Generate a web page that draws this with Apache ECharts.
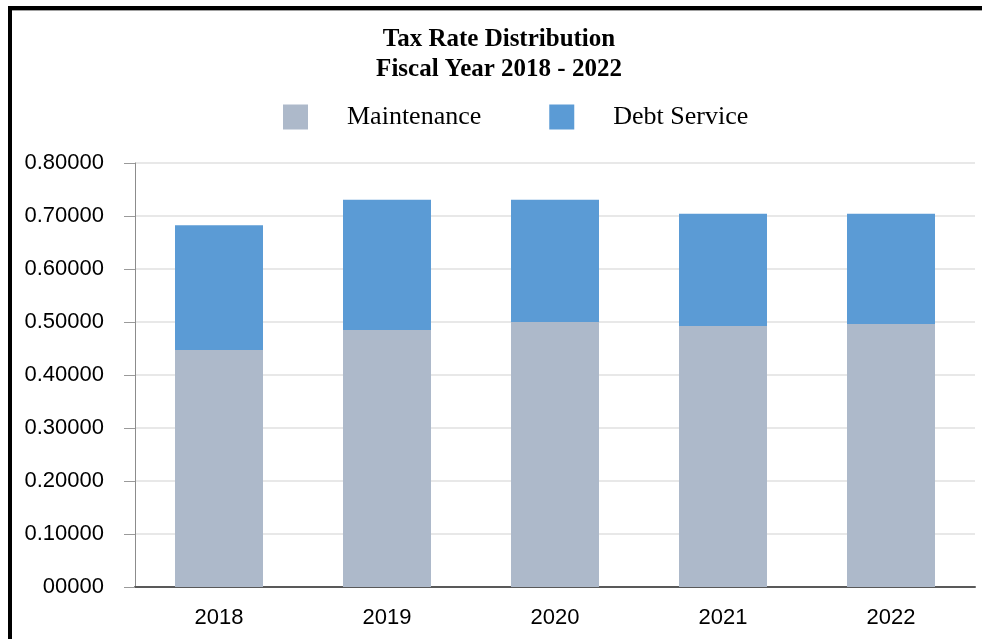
<!DOCTYPE html>
<html>
<head>
<meta charset="utf-8">
<script src="https://cdn.jsdelivr.net/npm/echarts@6/dist/echarts.min.js"></script>
<style>
  html, body { margin: 0; padding: 0; background: #ffffff; }
  #chart { width: 982px; height: 639px; }
</style>
</head>
<body>
<div id="chart"></div>
<script>
// Fiscal years shown along the x axis
const years = ['2018', '2019', '2020', '2021', '2022'];
// Tax rate components per fiscal year
const maintenance = [0.4471, 0.4850, 0.5001, 0.4926, 0.4963];
const debtService = [0.2356, 0.2455, 0.2304, 0.2115, 0.2078];
// Value axis range and step
const yMin = 0;
const yMax = 0.8;
const yStep = 0.1;

const chart = echarts.init(document.getElementById('chart'), null, { renderer: 'canvas' });

const option = {
  backgroundColor: '#ffffff',
  animation: false,
  title: {
    text: 'Tax Rate Distribution\nFiscal Year 2018 - 2022',
    left: 499,
    top: 25,
    padding: 0,
    textAlign: 'center',
    textStyle: {
      fontFamily: 'Liberation Serif',
      fontWeight: 'bold',
      fontSize: 25,
      lineHeight: 30,
      color: '#000000'
    }
  },
  legend: {
    left: 283,
    top: 104,
    padding: 0,
    itemWidth: 25,
    itemHeight: 25,
    itemGap: 68,
    icon: 'rect',
    textStyle: {
      fontFamily: 'Liberation Serif',
      fontSize: 26,
      color: '#000000',
      padding: [0, 0, 0, 34]
    },
    data: ['Maintenance', 'Debt Service']
  },
  grid: {
    left: 135,
    right: 7,
    top: 163,
    bottom: 52,
    containLabel: false
  },
  xAxis: {
    type: 'category',
    data: years,
    axisLine: { show: true, lineStyle: { color: '#595959', width: 2 } },
    axisTick: { show: false },
    axisLabel: {
      margin: 20,
      fontFamily: 'Liberation Sans',
      fontSize: 22,
      color: '#000000'
    },
    splitLine: { show: false }
  },
  yAxis: {
    type: 'value',
    min: yMin,
    max: yMax,
    interval: yStep,
    axisLine: { show: true, lineStyle: { color: '#8c8c8c', width: 1 } },
    axisTick: { show: true, length: 11, lineStyle: { color: '#9a9a9a', width: 1 } },
    axisLabel: {
      margin: 31,
      fontFamily: 'Liberation Sans',
      fontSize: 22,
      color: '#000000',
      formatter: function (v) {
        return v === 0 ? '00000' : v.toFixed(5);
      }
    },
    splitLine: { show: true, lineStyle: { color: '#e8e8e8', width: 2 } }
  },
  series: [
    {
      name: 'Maintenance',
      type: 'bar',
      stack: 'rate',
      barWidth: 88,
      itemStyle: { color: '#adb9ca' },
      data: maintenance
    },
    {
      name: 'Debt Service',
      type: 'bar',
      stack: 'rate',
      barWidth: 88,
      itemStyle: { color: '#5b9bd5' },
      data: debtService
    }
  ],
  graphic: [
    // frame: heavy black top and left edges with a thin grey rule beneath the top
    { type: 'rect', shape: { x: 8, y: 10, width: 974, height: 1 }, style: { fill: '#a0a0a0' }, silent: true },
    { type: 'rect', shape: { x: 8, y: 6, width: 974, height: 4 }, style: { fill: '#000000' }, silent: true },
    { type: 'rect', shape: { x: 8, y: 6, width: 4, height: 633 }, style: { fill: '#000000' }, silent: true }
  ]
};

chart.setOption(option);
</script>
</body>
</html>
